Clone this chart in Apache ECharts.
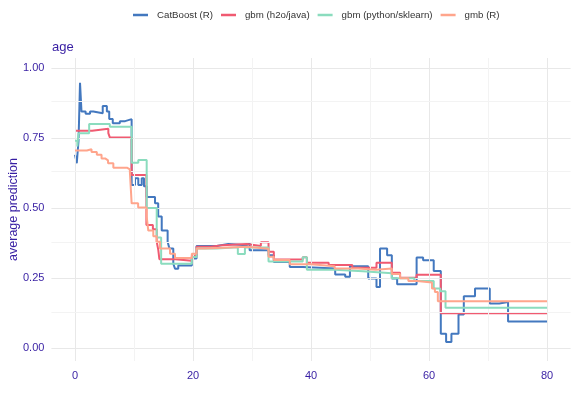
<!DOCTYPE html>
<html><head><meta charset="utf-8">
<script src="https://cdn.jsdelivr.net/npm/echarts@6/dist/echarts.min.js"></script>
<style>html,body{margin:0;padding:0;background:#fff}#c{width:578px;height:394px}</style>
</head><body><div id="c"></div>
<script>
const seriesNames = ['CatBoost (R)', 'gbm (h2o/java)', 'gbm (python/sklearn)', 'gmb (R)'];
const seriesColors = ['#4378bf', '#f05a71', '#8bdcbe', '#ffa58c'];

// [age, average prediction] — step changes
const catboost = [[0,0.69],[0.3,0.66],[0.6,0.74],[0.85,0.947],[1.1,0.844],[1.8,0.836],[2.55,0.844],[3.1,0.838],[4.7,0.864],[5.4,0.844],[5.8,0.818],[6.4,0.802],[7.6,0.81],[8.5,0.817],[9.6,0.582],[10.17,0.606],[10.73,0.582],[11.31,0.606],[11.69,0.578],[12.15,0.54],[13.56,0.517],[14.1,0.47],[14.7,0.42],[15.7,0.38],[16.0,0.356],[16.66,0.302],[16.95,0.284],[17.5,0.295],[19.8,0.32],[20.6,0.365],[24.0,0.372],[26.0,0.368],[29.1,0.375],[29.6,0.35],[32.8,0.332],[33.7,0.308],[36.4,0.29],[38.6,0.285],[44.1,0.263],[45.8,0.255],[46.6,0.293],[49.7,0.249],[51.1,0.219],[51.7,0.356],[52.9,0.332],[53.7,0.249],[54.6,0.229],[57.9,0.324],[59.0,0.314],[60.8,0.276],[62.0,0.052],[62.9,0.023],[63.8,0.052],[65.0,0.121],[65.9,0.186],[67.8,0.213],[70.3,0.16],[71.9,0.165],[73.4,0.096],[80,0.096]];
const gbmH2o = [[0,0.776],[2.9,0.783],[5.65,0.767],[5.9,0.752],[9.6,0.618],[12.1,0.44],[13.2,0.425],[13.85,0.38],[14.12,0.35],[14.3,0.318],[17.0,0.312],[19.8,0.33],[20.6,0.362],[23.0,0.368],[25.0,0.372],[29.1,0.365],[31.5,0.378],[32.8,0.344],[33.7,0.317],[38.6,0.325],[39.3,0.305],[43.0,0.297],[47.0,0.287],[51.1,0.305],[53.7,0.27],[55.1,0.252],[57.9,0.262],[62.0,0.125],[80,0.125]];
const gbmSklearn = [[0,0.74],[0.4,0.72],[0.6,0.767],[2.4,0.80],[5.9,0.79],[9.6,0.662],[10.73,0.671],[12.15,0.50],[13.85,0.395],[14.6,0.302],[19.8,0.326],[20.6,0.356],[24.0,0.36],[27.6,0.336],[28.8,0.36],[32.8,0.31],[38.6,0.325],[39.3,0.28],[44.0,0.275],[48.8,0.268],[53.7,0.25],[57.5,0.24],[60.8,0.213],[61.9,0.204],[62.8,0.145],[80,0.145]];
const gmbR = [[0,0.705],[2.0,0.71],[2.8,0.70],[3.7,0.69],[4.5,0.677],[5.1,0.67],[5.6,0.66],[6.5,0.644],[8.8,0.638],[9.3,0.63],[9.6,0.517],[10.7,0.502],[12.15,0.47],[12.42,0.42],[13.27,0.40],[13.85,0.38],[14.4,0.356],[16.1,0.337],[16.95,0.322],[19.8,0.337],[20.6,0.356],[22.0,0.362],[29.1,0.355],[32.8,0.327],[33.7,0.315],[36.4,0.30],[40.0,0.293],[44.0,0.285],[48.0,0.28],[51.0,0.285],[53.7,0.265],[55.1,0.25],[56.5,0.24],[58.0,0.235],[60.5,0.213],[61.0,0.201],[61.5,0.168],[80,0.168]];

const xTicks = [0, 20, 40, 60, 80];
const xMinor = [10, 30, 50, 70];
const yTicks = [0, 0.25, 0.5, 0.75, 1];
const yMinor = [0.125, 0.375, 0.625, 0.875];

const labelColor = '#371ea3';
const font = 'Liberation Sans, Arial, sans-serif';
const chart = echarts.init(document.getElementById('c'), null, {renderer: 'canvas'});
const dataSets = [catboost, gbmH2o, gbmSklearn, gmbR];

const gridLines = [];
xTicks.forEach(v => gridLines.push({xAxis: v, lineStyle: {color: '#e8e8e8', width: 1, type: 'solid'}}));
yTicks.forEach(v => gridLines.push({yAxis: v, lineStyle: {color: '#e8e8e8', width: 1, type: 'solid'}}));
xMinor.forEach(v => gridLines.push({xAxis: v, lineStyle: {color: '#f3f3f3', width: 1, type: 'solid'}}));
yMinor.forEach(v => gridLines.push({yAxis: v, lineStyle: {color: '#f3f3f3', width: 1, type: 'solid'}}));

const series = [{
  type: 'line', data: [], silent: true, z: 1,
  markLine: {silent: true, symbol: 'none', animation: false, label: {show: false},
    lineStyle: {type: 'solid'}, emphasis: {disabled: true}, data: gridLines}
}];
dataSets.forEach((d, i) => series.push({
  name: seriesNames[i], type: 'line', step: 'end', data: d, showSymbol: false, symbol: 'none', z: 3 + i,
  lineStyle: {color: seriesColors[i], width: 2}, itemStyle: {color: seriesColors[i]}
}));

chart.setOption({
  animation: false,
  backgroundColor: '#ffffff',
  title: {text: 'age', left: 52, top: 41, padding: 0,
    textStyle: {color: labelColor, fontSize: 13, fontWeight: 'normal', fontFamily: font}},
  legend: {data: seriesNames, left: 133, top: 10, padding: 0, icon: 'rect', itemWidth: 15, itemHeight: 2.5, itemGap: 8,
    textStyle: {color: '#333', fontSize: 9.7, fontFamily: font, padding: [0, 0, 0, 4]}},
  grid: {left: 51.4, right: 7.4, top: 58, bottom: 33, containLabel: false, outerBoundsMode: 'none'},
  xAxis: {type: 'value', min: -4, max: 84,
    axisLine: {show: false}, axisTick: {show: false, customValues: xTicks}, splitLine: {show: false},
    axisLabel: {customValues: xTicks, color: labelColor, fontSize: 11, margin: 9, fontFamily: font}},
  yAxis: {type: 'value', min: -0.045, max: 1.035,
    name: 'average prediction', nameLocation: 'middle', nameGap: 31, nameMoveOverlap: false,
    nameTextStyle: {color: labelColor, fontSize: 12.5, fontFamily: font},
    axisLine: {show: false}, axisTick: {show: false, customValues: yTicks}, splitLine: {show: false},
    axisLabel: {customValues: yTicks, color: labelColor, fontSize: 11, margin: 7,
      formatter: v => v.toFixed(2), fontFamily: font}},
  series: series
});
</script></body></html>
